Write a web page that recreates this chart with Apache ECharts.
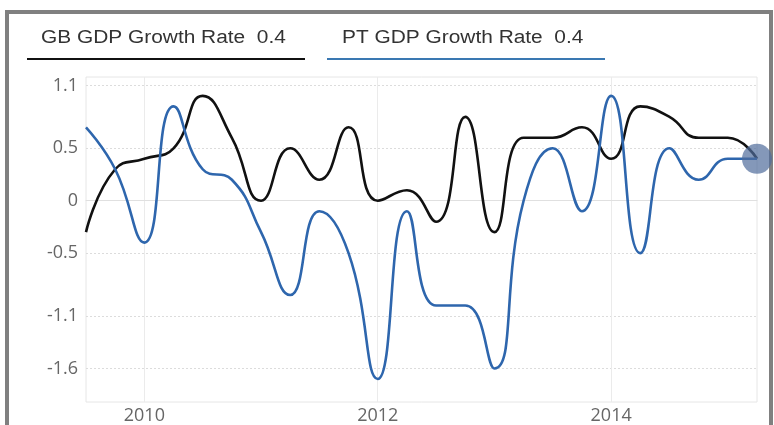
<!DOCTYPE html>
<html>
<head>
<meta charset="utf-8">
<script src="https://cdn.jsdelivr.net/npm/echarts@6/dist/echarts.min.js"></script>
<style>
html,body{margin:0;padding:0;background:#fff;}
#wrap{position:relative;width:774px;height:425px;overflow:hidden;}
#chart{position:absolute;left:0;top:0;width:774px;height:425px;}
#frame{position:absolute;left:5px;top:10px;width:760px;height:430px;border:4px solid #808080;pointer-events:none;}
</style>
</head>
<body>
<div id="wrap">
<div id="frame"></div>
<div id="chart"></div>
</div>
<script>
// quarter-end dates
const categories = ['2009-06-30','2009-09-30','2009-12-31','2010-03-31','2010-06-30','2010-09-30','2010-12-31',
  '2011-03-31','2011-06-30','2011-09-30','2011-12-31','2012-03-31','2012-06-30','2012-09-30','2012-12-31',
  '2013-03-31','2013-06-30','2013-09-30','2013-12-31','2014-03-31','2014-06-30','2014-09-30','2014-12-31','2015-03-31'];
const gbValues = [-0.3,0.3,0.4,0.5,1.0,0.6,0.0,0.5,0.2,0.7,0.0,0.1,-0.2,0.8,-0.3,0.6,0.6,0.7,0.4,0.9,0.8,0.6,0.6,0.4];
const ptValues = [0.7,0.3,-0.4,0.9,0.3,0.2,-0.3,-0.9,-0.1,-0.5,-1.7,-0.1,-1.0,-1.0,-1.6,0.0,0.5,-0.1,1.0,-0.5,0.5,0.2,0.4,0.4];
const seriesNames = ['GB GDP Growth Rate','PT GDP Growth Rate'];
const xTickAt = ['2009-12-31','2011-12-31','2013-12-31'];
const xTickLabels = ['2010','2012','2014'];
const yTicks = [-1.6,-1.1,-0.5,0,0.5,1.1];

const chart = echarts.init(document.getElementById('chart'));
const gbColor = '#111111', ptColor = '#2e66ad';
const ptData = ptValues.map((v,i)=> i===ptValues.length-1
  ? {value:v, symbol:'circle', symbolSize:30, itemStyle:{color:'rgba(80,108,155,0.7)', borderWidth:0}}
  : v);
const legendFont = '18px "Liberation Sans", Arial, sans-serif';

chart.setOption({
  animation:false,
  backgroundColor:'transparent',
  grid:{left:86,right:17,top:77,bottom:23,show:true,borderColor:'#e6e6e6',borderWidth:1},
  xAxis:{
    type:'category',
    data:categories,
    boundaryGap:false,
    axisLine:{show:true,lineStyle:{color:'#e0e0e0'}},
    axisTick:{show:false},
    axisLabel:{
      interval:(idx,val)=>xTickAt.indexOf(val)>=0,
      formatter:(val)=>xTickLabels[xTickAt.indexOf(val)],
      color:'#666',fontFamily:'Open Sans',fontSize:18,margin:5
    },
    splitLine:{show:true,interval:(idx,val)=>xTickAt.indexOf(val)>=0,lineStyle:{color:'#ebebeb',width:1}}
  },
  yAxis:{
    type:'value',
    min:-1.92,max:1.18,
    axisLine:{show:false},
    axisTick:{show:false,customValues:yTicks},
    axisLabel:{customValues:yTicks,color:'#666',fontFamily:'Open Sans',fontSize:18,margin:8,
      formatter:(v)=>String(Math.round(v*10)/10)},
    splitLine:{show:true,lineStyle:{color:'#dcdcdc',type:[2,2],width:1}}
  },
  graphic:[
    {type:'text',x:41,y:38,scaleX:1.16,style:{text:seriesNames[0]+'  '+gbValues[gbValues.length-1],fill:'#333',font:legendFont,verticalAlign:'middle'}},
    {type:'line',shape:{x1:27,y1:59,x2:305,y2:59},style:{stroke:gbColor,lineWidth:2}},
    {type:'text',x:342,y:38,scaleX:1.16,style:{text:seriesNames[1]+'  '+ptValues[ptValues.length-1],fill:'#333',font:legendFont,verticalAlign:'middle'}},
    {type:'line',shape:{x1:327,y1:59,x2:605,y2:59},style:{stroke:'#3a78b2',lineWidth:2}}
  ],
  series:[
    {name:seriesNames[0],type:'line',data:gbValues,smooth:0.5,symbol:'none',
      lineStyle:{color:gbColor,width:2.6},itemStyle:{color:gbColor},z:2},
    {name:seriesNames[1],type:'line',data:ptData,smooth:0.5,symbol:'none',showSymbol:true,
      lineStyle:{color:ptColor,width:2.6},itemStyle:{color:ptColor},z:3}
  ]
});
</script>
</body>
</html>
